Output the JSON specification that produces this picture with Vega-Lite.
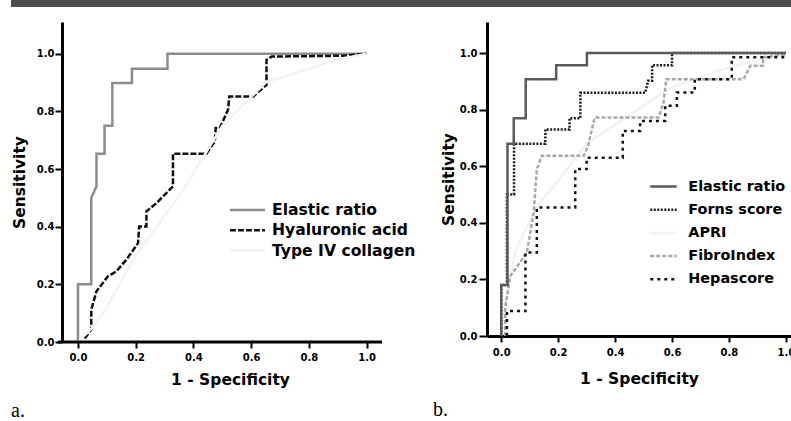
{
  "$schema": "https://vega.github.io/schema/vega-lite/v6.json",
  "padding": {"left": 11, "top": 0, "right": -4, "bottom": 0},
  "background": "white",
  "config": {
    "view": {"stroke": null},
    "axis": {
      "grid": false,
      "domainColor": "black",
      "domainWidth": 3,
      "tickColor": "black",
      "tickWidth": 2,
      "labelFont": "DejaVu Sans",
      "labelFontSize": 10,
      "labelFontWeight": "bold",
      "labelColor": "black",
      "titleFont": "DejaVu Sans",
      "titleFontSize": 15.5,
      "titleFontWeight": "bold",
      "titleColor": "black"
    },
    "legend": {
      "title": null,
      "orient": "none",
      "symbolStrokeWidth": 2.5,
      "labelFont": "DejaVu Sans",
      "labelFontWeight": "bold",
      "labelColor": "black",
      "padding": 0,
      "labelLimit": 300
    },
    "title": {"font": "Liberation Serif", "fontSize": 20, "fontWeight": "normal", "color": "black", "orient": "bottom", "anchor": "start", "frame": "group"}
  },
  "datasets": {
    "a": [
      {"s": "Elastic ratio", "i": 0, "x": 0, "y": 0},
      {"s": "Elastic ratio", "i": 1, "x": 0, "y": 0.2},
      {"s": "Elastic ratio", "i": 2, "x": 0.046, "y": 0.2},
      {"s": "Elastic ratio", "i": 3, "x": 0.046, "y": 0.5},
      {"s": "Elastic ratio", "i": 4, "x": 0.064, "y": 0.54},
      {"s": "Elastic ratio", "i": 5, "x": 0.064, "y": 0.653},
      {"s": "Elastic ratio", "i": 6, "x": 0.092, "y": 0.653},
      {"s": "Elastic ratio", "i": 7, "x": 0.092, "y": 0.75},
      {"s": "Elastic ratio", "i": 8, "x": 0.119, "y": 0.75},
      {"s": "Elastic ratio", "i": 9, "x": 0.119, "y": 0.898},
      {"s": "Elastic ratio", "i": 10, "x": 0.187, "y": 0.898},
      {"s": "Elastic ratio", "i": 11, "x": 0.187, "y": 0.948},
      {"s": "Elastic ratio", "i": 12, "x": 0.31, "y": 0.948},
      {"s": "Elastic ratio", "i": 13, "x": 0.31, "y": 1.0},
      {"s": "Elastic ratio", "i": 14, "x": 1.0, "y": 1.0},
      {"s": "Hyaluronic acid", "i": 0, "x": 0.023, "y": 0.012},
      {"s": "Hyaluronic acid", "i": 1, "x": 0.046, "y": 0.043},
      {"s": "Hyaluronic acid", "i": 2, "x": 0.046, "y": 0.112},
      {"s": "Hyaluronic acid", "i": 3, "x": 0.064, "y": 0.176},
      {"s": "Hyaluronic acid", "i": 4, "x": 0.104, "y": 0.228},
      {"s": "Hyaluronic acid", "i": 5, "x": 0.133, "y": 0.245},
      {"s": "Hyaluronic acid", "i": 6, "x": 0.168, "y": 0.286},
      {"s": "Hyaluronic acid", "i": 7, "x": 0.208, "y": 0.343},
      {"s": "Hyaluronic acid", "i": 8, "x": 0.212, "y": 0.401},
      {"s": "Hyaluronic acid", "i": 9, "x": 0.237, "y": 0.401},
      {"s": "Hyaluronic acid", "i": 10, "x": 0.237, "y": 0.453},
      {"s": "Hyaluronic acid", "i": 11, "x": 0.272, "y": 0.482},
      {"s": "Hyaluronic acid", "i": 12, "x": 0.329, "y": 0.54},
      {"s": "Hyaluronic acid", "i": 13, "x": 0.329, "y": 0.653},
      {"s": "Hyaluronic acid", "i": 14, "x": 0.445, "y": 0.653},
      {"s": "Hyaluronic acid", "i": 15, "x": 0.474, "y": 0.696},
      {"s": "Hyaluronic acid", "i": 16, "x": 0.477, "y": 0.742},
      {"s": "Hyaluronic acid", "i": 17, "x": 0.491, "y": 0.742},
      {"s": "Hyaluronic acid", "i": 18, "x": 0.52, "y": 0.806},
      {"s": "Hyaluronic acid", "i": 19, "x": 0.524, "y": 0.852},
      {"s": "Hyaluronic acid", "i": 20, "x": 0.607, "y": 0.852},
      {"s": "Hyaluronic acid", "i": 21, "x": 0.653, "y": 0.892},
      {"s": "Hyaluronic acid", "i": 22, "x": 0.653, "y": 0.979},
      {"s": "Hyaluronic acid", "i": 23, "x": 0.671, "y": 0.99},
      {"s": "Hyaluronic acid", "i": 24, "x": 0.919, "y": 0.993},
      {"s": "Hyaluronic acid", "i": 25, "x": 1.0, "y": 1.0},
      {"s": "Type IV collagen", "i": 0, "x": 0, "y": 0},
      {"s": "Type IV collagen", "i": 1, "x": 0.05, "y": 0.05},
      {"s": "Type IV collagen", "i": 2, "x": 0.1, "y": 0.12},
      {"s": "Type IV collagen", "i": 3, "x": 0.2, "y": 0.3},
      {"s": "Type IV collagen", "i": 4, "x": 0.36, "y": 0.52},
      {"s": "Type IV collagen", "i": 5, "x": 0.5, "y": 0.75},
      {"s": "Type IV collagen", "i": 6, "x": 0.65, "y": 0.9},
      {"s": "Type IV collagen", "i": 7, "x": 0.9, "y": 0.98},
      {"s": "Type IV collagen", "i": 8, "x": 1.0, "y": 1.0}
    ],
    "b": [
      {"s": "APRI", "i": 0, "x": 0, "y": 0},
      {"s": "APRI", "i": 1, "x": 0.02, "y": 0.15},
      {"s": "APRI", "i": 2, "x": 0.05, "y": 0.3},
      {"s": "APRI", "i": 3, "x": 0.12, "y": 0.45},
      {"s": "APRI", "i": 4, "x": 0.2, "y": 0.55},
      {"s": "APRI", "i": 5, "x": 0.3, "y": 0.68},
      {"s": "APRI", "i": 6, "x": 0.45, "y": 0.78},
      {"s": "APRI", "i": 7, "x": 0.6, "y": 0.88},
      {"s": "APRI", "i": 8, "x": 0.8, "y": 0.95},
      {"s": "APRI", "i": 9, "x": 1.0, "y": 1.0},
      {"s": "FibroIndex", "i": 0, "x": 0.014, "y": 0},
      {"s": "FibroIndex", "i": 1, "x": 0.014, "y": 0.1},
      {"s": "FibroIndex", "i": 2, "x": 0.032, "y": 0.212},
      {"s": "FibroIndex", "i": 3, "x": 0.09, "y": 0.295},
      {"s": "FibroIndex", "i": 4, "x": 0.114, "y": 0.436},
      {"s": "FibroIndex", "i": 5, "x": 0.125, "y": 0.59},
      {"s": "FibroIndex", "i": 6, "x": 0.143, "y": 0.637},
      {"s": "FibroIndex", "i": 7, "x": 0.29, "y": 0.637},
      {"s": "FibroIndex", "i": 8, "x": 0.305, "y": 0.672},
      {"s": "FibroIndex", "i": 9, "x": 0.328, "y": 0.772},
      {"s": "FibroIndex", "i": 10, "x": 0.553, "y": 0.772},
      {"s": "FibroIndex", "i": 11, "x": 0.57, "y": 0.825},
      {"s": "FibroIndex", "i": 12, "x": 0.58, "y": 0.908},
      {"s": "FibroIndex", "i": 13, "x": 0.851, "y": 0.908},
      {"s": "FibroIndex", "i": 14, "x": 0.875, "y": 0.955},
      {"s": "FibroIndex", "i": 15, "x": 0.92, "y": 0.955},
      {"s": "FibroIndex", "i": 16, "x": 0.92, "y": 0.985},
      {"s": "FibroIndex", "i": 17, "x": 1.0, "y": 0.995},
      {"s": "Hepascore", "i": 0, "x": 0.02, "y": 0},
      {"s": "Hepascore", "i": 1, "x": 0.02, "y": 0.088},
      {"s": "Hepascore", "i": 2, "x": 0.085, "y": 0.088},
      {"s": "Hepascore", "i": 3, "x": 0.085, "y": 0.295},
      {"s": "Hepascore", "i": 4, "x": 0.125, "y": 0.295},
      {"s": "Hepascore", "i": 5, "x": 0.125, "y": 0.454},
      {"s": "Hepascore", "i": 6, "x": 0.26, "y": 0.454},
      {"s": "Hepascore", "i": 7, "x": 0.26, "y": 0.59},
      {"s": "Hepascore", "i": 8, "x": 0.3, "y": 0.59},
      {"s": "Hepascore", "i": 9, "x": 0.3, "y": 0.63},
      {"s": "Hepascore", "i": 10, "x": 0.427, "y": 0.63},
      {"s": "Hepascore", "i": 11, "x": 0.427, "y": 0.725},
      {"s": "Hepascore", "i": 12, "x": 0.488, "y": 0.725},
      {"s": "Hepascore", "i": 13, "x": 0.488, "y": 0.76},
      {"s": "Hepascore", "i": 14, "x": 0.576, "y": 0.76},
      {"s": "Hepascore", "i": 15, "x": 0.576, "y": 0.814},
      {"s": "Hepascore", "i": 16, "x": 0.617, "y": 0.814},
      {"s": "Hepascore", "i": 17, "x": 0.617, "y": 0.861},
      {"s": "Hepascore", "i": 18, "x": 0.68, "y": 0.861},
      {"s": "Hepascore", "i": 19, "x": 0.68, "y": 0.908},
      {"s": "Hepascore", "i": 20, "x": 0.81, "y": 0.908},
      {"s": "Hepascore", "i": 21, "x": 0.81, "y": 0.985},
      {"s": "Hepascore", "i": 22, "x": 1.0, "y": 0.985},
      {"s": "Forns score", "i": 0, "x": 0, "y": 0},
      {"s": "Forns score", "i": 1, "x": 0, "y": 0.18},
      {"s": "Forns score", "i": 2, "x": 0.02, "y": 0.18},
      {"s": "Forns score", "i": 3, "x": 0.02, "y": 0.5},
      {"s": "Forns score", "i": 4, "x": 0.045, "y": 0.5},
      {"s": "Forns score", "i": 5, "x": 0.045, "y": 0.68},
      {"s": "Forns score", "i": 6, "x": 0.155, "y": 0.68},
      {"s": "Forns score", "i": 7, "x": 0.155, "y": 0.73},
      {"s": "Forns score", "i": 8, "x": 0.24, "y": 0.73},
      {"s": "Forns score", "i": 9, "x": 0.24, "y": 0.77},
      {"s": "Forns score", "i": 10, "x": 0.278, "y": 0.77},
      {"s": "Forns score", "i": 11, "x": 0.278, "y": 0.86},
      {"s": "Forns score", "i": 12, "x": 0.506, "y": 0.86},
      {"s": "Forns score", "i": 13, "x": 0.516, "y": 0.902},
      {"s": "Forns score", "i": 14, "x": 0.53, "y": 0.902},
      {"s": "Forns score", "i": 15, "x": 0.53, "y": 0.957},
      {"s": "Forns score", "i": 16, "x": 0.6, "y": 0.957},
      {"s": "Forns score", "i": 17, "x": 0.6, "y": 1.0},
      {"s": "Forns score", "i": 18, "x": 1.0, "y": 1.0},
      {"s": "Elastic ratio", "i": 0, "x": 0, "y": 0},
      {"s": "Elastic ratio", "i": 1, "x": 0, "y": 0.18},
      {"s": "Elastic ratio", "i": 2, "x": 0.022, "y": 0.18},
      {"s": "Elastic ratio", "i": 3, "x": 0.022, "y": 0.68},
      {"s": "Elastic ratio", "i": 4, "x": 0.044, "y": 0.68},
      {"s": "Elastic ratio", "i": 5, "x": 0.044, "y": 0.77},
      {"s": "Elastic ratio", "i": 6, "x": 0.086, "y": 0.77},
      {"s": "Elastic ratio", "i": 7, "x": 0.086, "y": 0.908},
      {"s": "Elastic ratio", "i": 8, "x": 0.193, "y": 0.908},
      {"s": "Elastic ratio", "i": 9, "x": 0.193, "y": 0.957},
      {"s": "Elastic ratio", "i": 10, "x": 0.301, "y": 0.957},
      {"s": "Elastic ratio", "i": 11, "x": 0.301, "y": 1.0},
      {"s": "Elastic ratio", "i": 12, "x": 1.0, "y": 1.0}
    ]
  },
  "bounds": "full",
  "spacing": 15,
  "vconcat": [
    {
      "width": 780,
      "height": 7,
      "data": {"values": [{"band": "header"}]},
      "mark": {"type": "rect", "color": "#4d4d4d"},
      "encoding": {}
    },
    {
      "bounds": "flush",
      "spacing": 105,
      "resolve": {
        "scale": {"color": "independent", "strokeDash": "independent", "x": "independent", "y": "independent"},
        "legend": {"color": "independent", "strokeDash": "independent"}
      },
      "hconcat": [
        {
          "width": 371,
          "height": 320,
          "title": {"text": "a.", "dx": 0, "offset": 13},
          "layer": [
            {
              "data": {"name": "a"},
              "mark": {"type": "line", "strokeWidth": 2.5},
              "encoding": {
                "x": {
                  "field": "x", "type": "quantitative",
                  "scale": {"domain": [-0.232, 1.053], "nice": false, "zero": false},
                  "axis": {"title": "1 - Specificity", "titleX": 219, "domain": false, "values": [0, 0.2, 0.4, 0.6, 0.8, 1.0], "format": ".1f", "tickSize": 6, "labelPadding": 4, "titlePadding": 10}
                },
                "y": {
                  "field": "y", "type": "quantitative",
                  "scale": {"domain": [0, 1.11], "nice": false},
                  "axis": {"title": "Sensitivity", "offset": -51, "values": [0, 0.2, 0.4, 0.6, 0.8, 1.0], "format": ".1f", "tickSize": 7, "labelPadding": 1, "titlePadding": 9}
                },
                "order": {"field": "i", "type": "quantitative"},
                "color": {
                  "field": "s", "type": "nominal",
                  "scale": {"domain": ["Elastic ratio", "Hyaluronic acid", "Type IV collagen"], "range": ["#8c8c8c", "#111111", "#f3f3f3"]},
                  "legend": {"legendX": 228, "legendY": 179.5, "symbolType": "M-2.5,0H2.5", "symbolSize": 196, "labelFontSize": 15.6, "labelOffset": 16, "rowPadding": 2.3}
                },
                "strokeDash": {
                  "field": "s", "type": "nominal",
                  "scale": {"domain": ["Elastic ratio", "Hyaluronic acid", "Type IV collagen"], "range": [[1, 0], [6, 2], [1, 0]]},
                  "legend": {"legendX": 228, "legendY": 179.5, "symbolType": "M-2.5,0H2.5", "symbolSize": 196, "labelFontSize": 15.6, "labelOffset": 16, "rowPadding": 2.3}
                }
              }
            },
            {
              "data": {"values": [{"axisline": "x"}]},
              "mark": {"type": "rule", "color": "black", "strokeWidth": 3},
              "encoding": {
                "x": {"datum": -0.069, "type": "quantitative"},
                "x2": {"datum": 1.053},
                "y": {"datum": 0, "type": "quantitative"}
              }
            }
          ]
        },
        {
          "width": 304,
          "height": 314,
          "data": {"name": "b"},
          "title": {"text": "b.", "dx": -54, "offset": 13},
          "mark": {"type": "line", "strokeWidth": 2.5},
          "encoding": {
            "x": {
              "field": "x", "type": "quantitative",
              "scale": {"domain": [-0.05, 1.018], "nice": false, "zero": false},
              "axis": {"title": "1 - Specificity", "values": [0, 0.2, 0.4, 0.6, 0.8, 1.0], "format": ".1f", "tickSize": 6, "labelPadding": 5, "titlePadding": 14}
            },
            "y": {
              "field": "y", "type": "quantitative",
              "scale": {"domain": [0, 1.11], "nice": false},
              "axis": {"title": "Sensitivity", "values": [0, 0.2, 0.4, 0.6, 0.8, 1.0], "format": ".1f", "tickSize": 8, "labelPadding": 2, "titlePadding": 3}
            },
            "order": {"field": "i", "type": "quantitative"},
            "color": {
              "field": "s", "type": "nominal",
              "scale": {"domain": ["Elastic ratio", "Forns score", "APRI", "FibroIndex", "Hepascore"], "range": ["#5a5a5a", "#1a1a1a", "#f2f2f2", "#a8a8a8", "#111111"]},
              "legend": {"legendX": 169, "legendY": 157, "symbolType": "M-2.2,0H2.2", "symbolSize": 144, "labelFontSize": 14.4, "labelOffset": 17.3, "rowPadding": 8.2}
            },
            "strokeDash": {
              "field": "s", "type": "nominal",
              "scale": {"domain": ["Elastic ratio", "Forns score", "APRI", "FibroIndex", "Hepascore"], "range": [[1, 0], [2, 1.5], [1, 0], [4, 2], [3, 4]]},
              "legend": {"legendX": 169, "legendY": 157, "symbolType": "M-2.2,0H2.2", "symbolSize": 144, "labelFontSize": 14.4, "labelOffset": 17.3, "rowPadding": 8.2}
            }
          }
        }
      ]
    }
  ]
}
